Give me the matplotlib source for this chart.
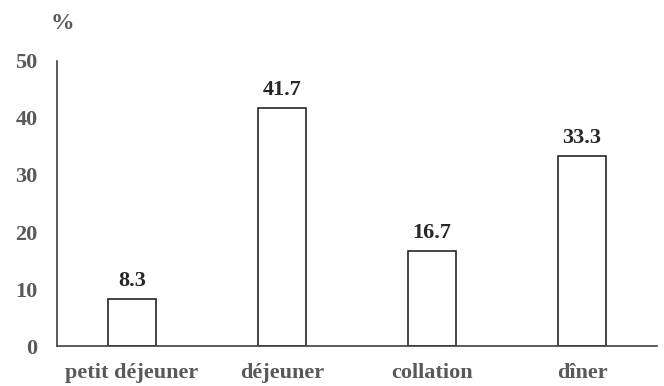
import matplotlib.pyplot as plt

meals = ['petit déjeuner', 'déjeuner', 'collation', 'dîner']
percent = [8.3, 41.7, 16.7, 33.3]
y_ticks = [0, 10, 20, 30, 40, 50]

plt.rcParams['font.family'] = ['Liberation Serif', 'DejaVu Serif']
plt.rcParams['font.weight'] = 'bold'

fig = plt.figure(figsize=(6.64, 3.86), dpi=100)
ax = fig.add_axes([0.0858, 0.1036, 0.9037, 0.7384])

bars = ax.bar(range(len(meals)), percent, width=0.32, color='white',
              edgecolor='#262626', linewidth=1.2)
for i, v in enumerate(percent):
    ax.text(i, v + 1.4, f'{v:.1f}', ha='center', va='bottom',
            fontsize=16, fontweight='bold', color='#262626')

ax.set_xlim(-0.5, len(meals) - 0.5)
ax.set_ylim(0, 50)
ax.set_yticks(y_ticks)
ax.set_xticks(range(len(meals)))
ax.set_xticklabels(meals)
ax.tick_params(axis='both', length=0, labelsize=16, labelcolor='#595959')
ax.tick_params(axis='y', pad=14)
ax.tick_params(axis='x', pad=12)
for lbl in ax.get_xticklabels() + ax.get_yticklabels():
    lbl.set_fontweight('bold')

for side in ['top', 'right']:
    ax.spines[side].set_visible(False)
for side in ['left', 'bottom']:
    ax.spines[side].set_color('#404040')
    ax.spines[side].set_linewidth(1.2)

fig.text(0.094, 0.938, '%', ha='center', va='center', fontsize=17,
         fontweight='bold', color='#595959')

fig.savefig('out.png', dpi=100)
